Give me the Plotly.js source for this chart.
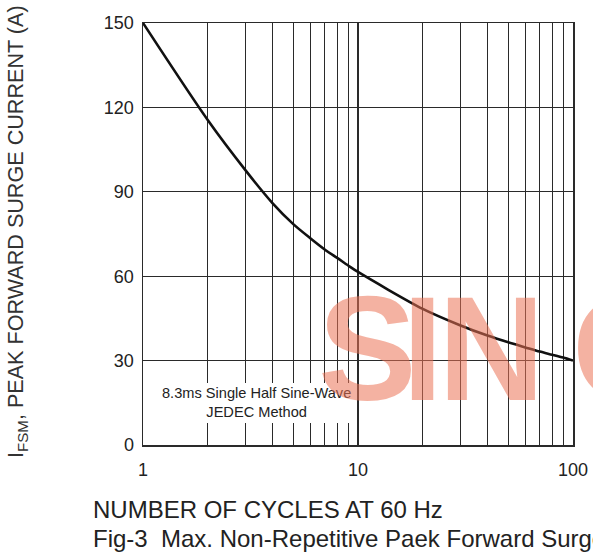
<!DOCTYPE html>
<html>
<head>
<meta charset="utf-8">
<script src="https://cdn.plot.ly/plotly-3.0.1.min.js"></script>
<style>html,body{margin:0;padding:0;background:#fff;}#chart{width:593px;height:552px;}</style>
</head>
<body>
<div id="chart"></div>
<script>
// Data (value where the curve crosses each grid line)
var cycles = [1, 2, 3, 4, 5, 6, 7, 8, 9, 10, 20, 30, 40, 50, 60, 70, 80, 90, 100];
var surgeCurrent = [150, 115.5, 97.6, 86, 78.5, 73.5, 69.5, 66.5, 63.8, 61.5, 48.4, 42.5, 38.9, 36.5, 34.7, 33.2, 32.1, 31.1, 30];

// Tick values / labels
var xTickVals = [1,2,3,4,5,6,7,8,9,10,20,30,40,50,60,70,80,90,100];
var xTickText = ["1","","","","","","","","","10","","","","","","","","","100"];
var yTickVals = [0, 30, 60, 90, 120, 150];

var xTitle = "NUMBER OF CYCLES AT 60 Hz";
var yTitle = "I<sub>FSM</sub>, PEAK FORWARD SURGE CURRENT (A)";
var caption = "Fig-3\u00a0 Max. Non-Repetitive Paek Forward Surge Current";
var noteText = "8.3ms Single Half Sine-Wave<br>JEDEC Method";
var watermarkLetters = ["S", "I", "N", "O"];
var watermarkPx = [316, 400, 436, 570];

var gridCol = "#2a2a2a";
var trace = {
  x: cycles, y: surgeCurrent, type: "scatter", mode: "lines",
  line: {color: "#111", width: 2.6, shape: "spline", smoothing: 0.8},
  hoverinfo: "skip", showlegend: false
};

var annotations = [
  {text: noteText, xref: "paper", yref: "y", x: (256-143)/430, y: 15,
   xanchor: "center", yanchor: "middle", showarrow: false,
   font: {size: 14.6, color: "#222"}},
  {text: xTitle, xref: "paper", yref: "paper", x: (91-143)/430, y: (445-509)/422,
   xanchor: "left", yanchor: "middle", showarrow: false,
   font: {size: 24, color: "#222"}},
  {text: caption, xref: "paper", yref: "paper", x: (91-143)/430, y: (445-538.5)/422,
   xanchor: "left", yanchor: "middle", showarrow: false,
   font: {size: 24, color: "#222"}},
  {text: yTitle, xref: "paper", yref: "paper", x: (17-143)/430, y: (445-232)/422,
   xanchor: "center", yanchor: "middle", textangle: -90, showarrow: false,
   font: {size: 21.6, color: "#333"}}
];
watermarkLetters.forEach(function (ch, i) {
  annotations.push({
    text: ch, xref: "paper", yref: "paper", x: (watermarkPx[i]-143)/430, y: (445-348.5)/422,
    xanchor: "left", yanchor: "middle", showarrow: false,
    font: {size: 148, color: "rgba(235,115,85,0.55)", family: "Liberation Sans, Arial, sans-serif", weight: "bold"}
  });
});

var layout = {
  width: 593, height: 552,
  margin: {l: 143, r: 20, t: 23, b: 107},
  paper_bgcolor: "#fff", plot_bgcolor: "#fff",
  font: {family: "Liberation Sans, Arial, sans-serif", color: "#222"},
  xaxis: {
    type: "log", range: [0, 2],
    tickmode: "array", tickvals: xTickVals, ticktext: xTickText,
    showgrid: true, gridcolor: gridCol, gridwidth: 1.3,
    showline: true, linecolor: gridCol, linewidth: 1.5, mirror: true,
    ticks: "outside", ticklen: 8, tickcolor: "rgba(0,0,0,0)",
    tickfont: {size: 18, color: "#222"}, zeroline: false
  },
  yaxis: {
    range: [0, 150], tickmode: "array", tickvals: yTickVals,
    showgrid: true, gridcolor: gridCol, gridwidth: 1.3,
    showline: true, linecolor: gridCol, linewidth: 1.5, mirror: true,
    ticks: "outside", ticklen: 4, tickcolor: "rgba(0,0,0,0)",
    tickfont: {size: 18, color: "#222"}, zeroline: false
  },
  shapes: [{
    type: "rect", layer: "above", xref: "paper", yref: "y",
    x0: 0.004, x1: (354-143)/430, y0: 7.8, y1: 22,
    fillcolor: "#ffffff", opacity: 1, line: {width: 0}
  }],
  annotations: annotations
};

Plotly.newPlot("chart", [trace], layout, {displayModeBar: false, staticPlot: true});
</script>
</body>
</html>
